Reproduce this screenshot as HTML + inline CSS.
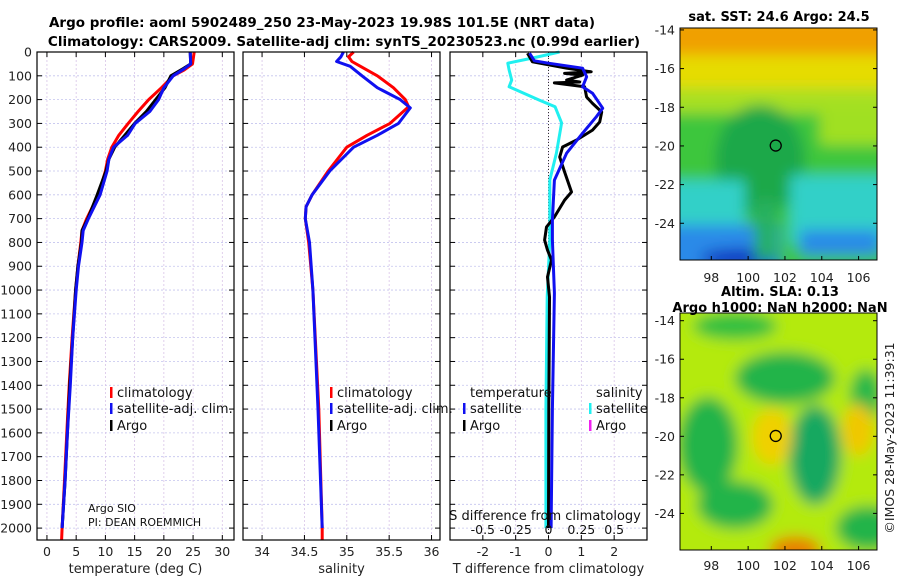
<!DOCTYPE html>
<html><head><meta charset="utf-8"><style>
body{margin:0;background:#fff;}
svg{display:block;font-family:"DejaVu Sans","Liberation Sans",sans-serif;}
</style></head><body>
<svg id="c" width="900" height="580" xmlns="http://www.w3.org/2000/svg">
<defs>
<filter id="b1" filterUnits="userSpaceOnUse" x="660" y="10" width="240" height="270"><feGaussianBlur stdDeviation="7"/></filter>
<filter id="b2" filterUnits="userSpaceOnUse" x="660" y="290" width="240" height="280"><feGaussianBlur stdDeviation="7"/></filter>
<clipPath id="cm1"><rect x="680" y="28" width="197" height="232"/></clipPath>
<clipPath id="cm2"><rect x="680" y="313" width="197" height="237"/></clipPath>
</defs>
<g font-weight="bold" font-size="13.5" text-anchor="middle">
<text x="322" y="27">Argo profile: aoml 5902489_250 23-May-2023 19.98S 101.5E (NRT data)</text>
<text x="344" y="46">Climatology: CARS2009. Satellite-adj clim: synTS_20230523.nc (0.99d earlier)</text>
</g>
<g id="sstmap" clip-path="url(#cm1)">
<g filter="url(#b1)">
<rect x="665" y="15" width="230" height="260" fill="#3cc63c"/>
<rect x="665" y="15" width="230" height="45" fill="#f0a000"/>
<rect x="665" y="55" width="230" height="40" fill="#e6dc00"/>
<rect x="665" y="88" width="230" height="25" fill="#a8e020"/>
<rect x="820" y="105" width="75" height="40" fill="#a0e020"/>
<ellipse cx="760" cy="160" rx="45" ry="55" fill="#1ea84a"/>
<rect x="665" y="180" width="80" height="60" fill="#30d0c8"/>
<rect x="790" y="175" width="105" height="70" fill="#30d0c8"/>
<rect x="665" y="225" width="115" height="50" fill="#2a8ae8"/>
<rect x="800" y="230" width="80" height="25" fill="#2a8ae8"/>
<ellipse cx="740" cy="258" rx="40" ry="9" fill="#1030c0"/>
<rect x="755" y="200" width="22" height="60" fill="#28b060"/>
</g>
</g>
<g id="slamap" clip-path="url(#cm2)">
<g filter="url(#b2)">
<rect x="665" y="295" width="230" height="270" fill="#b4ea10"/>
<ellipse cx="735" cy="326" rx="42" ry="14" fill="#30c040"/>
<ellipse cx="785" cy="378" rx="50" ry="26" fill="#22b448"/>
<ellipse cx="708" cy="445" rx="30" ry="48" fill="#22b448"/>
<ellipse cx="815" cy="455" rx="26" ry="50" fill="#18a860"/>
<ellipse cx="735" cy="505" rx="38" ry="24" fill="#22b448"/>
<ellipse cx="866" cy="395" rx="16" ry="26" fill="#28b848"/>
<ellipse cx="868" cy="528" rx="32" ry="22" fill="#22b448"/>
<ellipse cx="772" cy="437" rx="20" ry="28" fill="#f0d000"/>
<ellipse cx="858" cy="430" rx="16" ry="26" fill="#f0c800"/>
<ellipse cx="795" cy="550" rx="26" ry="14" fill="#e88000"/>
</g>
</g>
<g id="main"></g>
</svg>
<script>
// ---- data ----
const tDepthClim=[0,50,75,100,150,200,250,300,350,400,450,500,600,700,750,800,900,1000,1200,1400,1600,1800,2000,2050];
const tClim=[25.2,24.9,23.5,21.6,19.6,17.4,15.6,13.9,12.3,11.1,10.4,10.0,8.8,6.8,6.0,5.8,5.3,4.9,4.3,3.8,3.4,3.0,2.6,2.5];
const tDepthSat=[0,50,70,100,150,200,250,300,350,400,450,500,600,700,750,800,900,1000,1200,1400,1600,1800,2000];
const tSat=[24.5,24.6,23.5,21.6,20.0,19.1,17.6,15.1,13.8,11.4,10.6,10.3,9.1,7.1,6.2,6.0,5.4,5.0,4.4,4.0,3.5,3.1,2.6];
const tArgo=[24.5,24.6,23.3,21.2,20.2,18.6,17.0,15.0,13.3,11.6,10.6,10.1,8.6,7.0,6.0,5.9,5.3,4.9,4.4,3.9,3.5,3.1,2.6];
const sDepth=[0,20,40,60,100,150,200,230,300,350,400,500,600,650,700,800,1000,1500,2000,2050];
const sClim=[35.08,35.02,35.06,35.16,35.36,35.55,35.69,35.73,35.51,35.24,35.0,34.78,34.59,34.52,34.51,34.55,34.6,34.67,34.71,34.71];
const sDepthSat=[0,20,40,60,100,150,200,235,300,350,400,500,600,650,700,800,1000,1500,2000];
const sSat=[34.96,34.93,34.88,35.04,35.18,35.36,35.63,35.75,35.61,35.36,35.08,34.8,34.59,34.52,34.51,34.56,34.6,34.66,34.71];
const dTDepthSat=[5,37,47,68,104,146,173,236,272,341,425,538,706,790,1013,1500,2000];
const dTSat=[-0.58,-0.43,0,1.04,1.16,1.04,1.34,1.65,1.46,1.04,0.55,0.18,0.12,0.12,0.18,0.12,0.08];
const dSDepthSat=[0,25,47,75,118,146,202,230,298,425,538,790,1029,1500,2000];
const dSSat=[0.084,-0.12,-0.31,-0.30,-0.28,-0.30,-0.07,0.05,0.10,0.06,0.01,0.01,-0.01,-0.02,-0.02];
const dTDepthArgo=[5,41,68,83,90,97,118,126,130,146,189,216,252,294,328,370,399,441,504,588,622,693,735,790,832,874,945,1029,1500,2000];
const dTArgo=[-0.64,-0.49,0.55,1.3,0.49,1.04,0.55,0.95,0.18,1.1,1.16,1.34,1.62,1.56,1.34,0.85,0.43,0.34,0.49,0.7,0.49,0.18,-0.06,-0.12,-0.03,0.09,-0.03,0.03,0.01,0.0];
const depthTicks=[0,100,200,300,400,500,600,700,800,900,1000,1100,1200,1300,1400,1500,1600,1700,1800,1900,2000];
const tTicks=[0,5,10,15,20,25,30];
const sTicks=[34,34.5,35,35.5,36];
const sTickLabels=["34","34.5","35","35.5","36"];
const dTTicks=[-2,-1,0,1,2];
const dSTicks=[-0.5,-0.25,0,0.25,0.5];
const dSTickLabels=["-0.5","-0.25","0","0.25","0.5"];
const latTicks=[-14,-16,-18,-20,-22,-24];
const lonTicks=[98,100,102,104,106];
const argoLon=101.5, argoLat=-19.98;

const NS="http://www.w3.org/2000/svg";
const root=document.getElementById('main');
function el(tag,attrs,parent,text){const e=document.createElementNS(NS,tag);for(const k in attrs)e.setAttribute(k,attrs[k]);if(text!==undefined)e.textContent=text;(parent||root).appendChild(e);return e;}

const Y0=52,Y1=540,D0=0,D1=2050;
const yD=d=>Y0+(d-D0)/(D1-D0)*(Y1-Y0);
const panels=[
 {x0:37,x1:234,min:-1.7,max:32,ticks:tTicks,labels:tTicks.map(String),name:'temperature-panel',xlabel:'temperature (deg C)'},
 {x0:243,x1:440,min:33.775,max:36.1,ticks:sTicks,labels:sTickLabels,name:'salinity-panel',xlabel:'salinity'},
 {x0:450,x1:647,min:-3,max:3,ticks:dTTicks,labels:dTTicks.map(String),name:'difference-panel',xlabel:'T difference from climatology'}
];
panels.forEach(p=>{p.sx=v=>p.x0+(v-p.min)/(p.max-p.min)*(p.x1-p.x0);});

panels.forEach((p,pi)=>{
 const g=el('g',{},root);
 
 
 depthTicks.forEach(d=>{const l=el('line',{x1:p.x0,x2:p.x1,y1:yD(d),y2:yD(d),stroke:'#c4c4ee','stroke-width':0.8,'stroke-dasharray':'2,2'},g);
  });
 p.ticks.forEach(t=>{const l=el('line',{x1:p.sx(t),x2:p.sx(t),y1:Y0,y2:Y1,stroke:'#d8c4e8','stroke-width':0.8,'stroke-dasharray':'2,2'},g);
  });
 depthTicks.forEach(d=>{el('line',{x1:p.x0,x2:p.x0+5,y1:yD(d),y2:yD(d),stroke:'#000'},g);el('line',{x1:p.x1,x2:p.x1-5,y1:yD(d),y2:yD(d),stroke:'#000'},g);});
 p.ticks.forEach((t,i)=>{el('line',{x1:p.sx(t),x2:p.sx(t),y1:Y1,y2:Y1-5,stroke:'#000'},g);el('line',{x1:p.sx(t),x2:p.sx(t),y1:Y0,y2:Y0+5,stroke:'#000'},g);
  const tx=el('text',{x:p.sx(t),y:556,'font-size':12.5,'text-anchor':'middle',fill:'#222'},g,p.labels[i]);
  });
 const xl=el('text',{x:(p.x0+p.x1)/2,y:573,'font-size':13,'text-anchor':'middle',fill:'#222'},g,p.xlabel);
 
});
depthTicks.forEach(d=>{const t=el('text',{x:32,y:yD(d)+4.5,'font-size':12.5,'text-anchor':'end',fill:'#222'},root,String(d));
 });

function line(p,xs,ds,color,name,w,sc){
 const pts=xs.map((v,i)=>p.sx(v*(sc||1)).toFixed(1)+','+yD(ds[i]).toFixed(1)).join(' ');
 const e=el('polyline',{points:pts,fill:'none',stroke:color,'stroke-width':w||3,'stroke-linejoin':'round'});
 
 
}
line(panels[0],tClim,tDepthClim,'#f00','temperature-climatology-line');
line(panels[0],tArgo,tDepthSat,'#000','temperature-argo-line');
line(panels[0],tSat,tDepthSat,'#1010f0','temperature-satellite-line');
line(panels[1],sClim,sDepth,'#f00','salinity-climatology-line');
line(panels[1],sSat,sDepthSat,'#1010f0','salinity-satellite-line');
const p3=panels[2];
const z=el('line',{x1:p3.sx(0),x2:p3.sx(0),y1:Y0,y2:Y1,stroke:'#333','stroke-width':1,'stroke-dasharray':'1,2'});

line(p3,dSSat,dSDepthSat,'#20f0f0','salinity-difference-satellite-line',3,4);
line(p3,dTArgo,dTDepthArgo,'#000','temperature-difference-argo-line');
line(p3,dTSat,dTDepthSat,'#1010f0','temperature-difference-satellite-line');
dSTicks.forEach((t,i)=>{const tx=el('text',{x:p3.sx(t*4),y:534,'font-size':12.5,'text-anchor':'middle',fill:'#111'},root,dSTickLabels[i]);
 });
const sdt=el('text',{x:545,y:520,'font-size':13,'text-anchor':'middle',fill:'#111'},root,'S difference from climatology');


panels.forEach(p=>{const r=el('rect',{x:p.x0,y:Y0,width:p.x1-p.x0,height:Y1-Y0,fill:'none',stroke:'#000','stroke-width':1.2});
 });

function legend(x,y,color,label,name){
 const g=el('g',{});
 
 
 el('rect',{x:x,y:y-10,width:2.5,height:11,fill:color},g);
 el('text',{x:x+7,y:y,'font-size':13,fill:'#111'},g,label);
}
legend(110,397,'#f00','climatology','legend-climatology');
legend(110,413,'#1010f0','satellite-adj. clim.','legend-satellite-adj');
legend(110,430,'#000','Argo','legend-argo');
legend(330,397,'#f00','climatology','legend-climatology-salinity');
legend(330,413,'#1010f0','satellite-adj. clim.','legend-satellite-adj-salinity');
legend(330,430,'#000','Argo','legend-argo-salinity');
const lt=el('text',{x:470,y:397,'font-size':13,fill:'#111'},root,'temperature');
const ls=el('text',{x:596,y:397,'font-size':13,fill:'#111'},root,'salinity');
legend(463,413,'#1010f0','satellite','legend-temp-satellite');
legend(463,430,'#000','Argo','legend-temp-argo');
legend(589,413,'#20f0f0','satellite','legend-sal-satellite');
legend(589,430,'#f020f0','Argo','legend-sal-argo');
const a1=el('text',{x:88,y:512,'font-size':11,fill:'#111'},root,'Argo SIO');
const a2=el('text',{x:88,y:526,'font-size':11,fill:'#111'},root,'PI: DEAN ROEMMICH');

const maps=[{x0:680,x1:877,y0:28,y1:260,lat0:-13.9,lat1:-25.9,name:'sst-map-axes',xl:282},
            {x0:680,x1:877,y0:313,y1:550,lat0:-13.6,lat1:-25.9,name:'sla-map-axes',xl:570}];
const lon0=96.3,lon1=107;
maps.forEach(m=>{
 const g=el('g',{});
 
 
 const sx=v=>m.x0+(v-lon0)/(lon1-lon0)*(m.x1-m.x0);
 const sy=v=>m.y0+(v-m.lat0)/(m.lat1-m.lat0)*(m.y1-m.y0);
 el('rect',{x:m.x0,y:m.y0,width:m.x1-m.x0,height:m.y1-m.y0,fill:'none',stroke:'#000','stroke-width':1},g);
 latTicks.forEach(t=>{el('line',{x1:m.x0,x2:m.x0+4,y1:sy(t),y2:sy(t),stroke:'#000'},g);el('line',{x1:m.x1,x2:m.x1-4,y1:sy(t),y2:sy(t),stroke:'#000'},g);
  el('text',{x:675,y:sy(t)+4.5,'font-size':12.5,'text-anchor':'end',fill:'#222'},g,String(t));});
 lonTicks.forEach(t=>{el('line',{x1:sx(t),x2:sx(t),y1:m.y1,y2:m.y1-4,stroke:'#000'},g);
  el('text',{x:sx(t),y:m.xl,'font-size':12.5,'text-anchor':'middle',fill:'#222'},g,String(t));});
 const c=el('circle',{cx:sx(argoLon),cy:sy(argoLat),r:5.5,fill:'none',stroke:'#000','stroke-width':1.3},g);
 
 
});
const mt=[['sat. SST: 24.6 Argo: 24.5',779,21,'sst-map-title'],['Altim. SLA: 0.13',780,296,'sla-map-title'],['Argo h1000: NaN h2000: NaN',780,312,'sla-map-subtitle']];
mt.forEach(a=>{const t=el('text',{x:a[1],y:a[2],'font-size':13,'font-weight':'bold','text-anchor':'middle'},root,a[0]);
 });
const cp=el('text',{x:0,y:0,'font-size':12.5,'text-anchor':'middle',fill:'#222',transform:'translate(894,438) rotate(-90)'},root,'©IMOS 28-May-2023 11:39:31');

</script>
</body></html>
